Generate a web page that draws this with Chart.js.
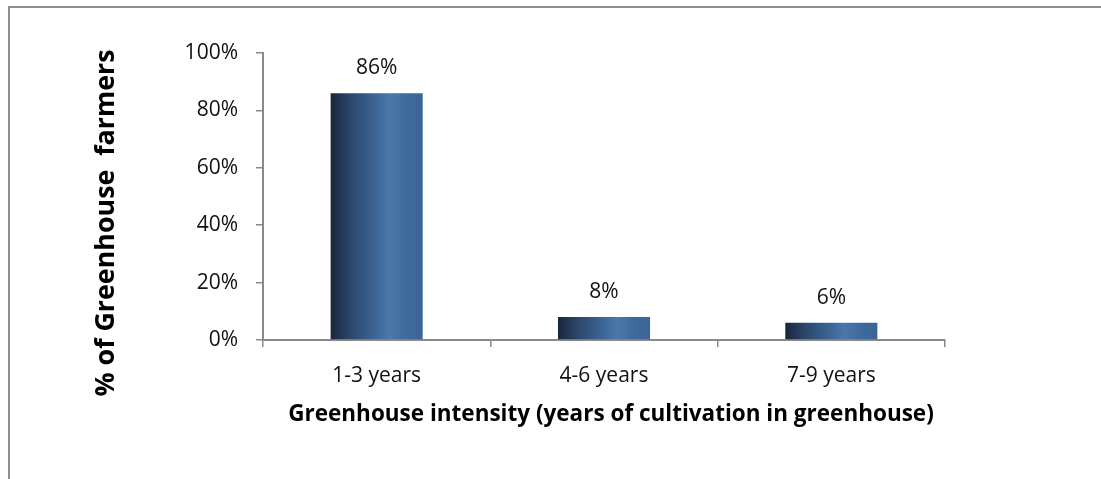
<!DOCTYPE html>
<html>
<head>
<meta charset="utf-8">
<script src="https://cdn.jsdelivr.net/npm/chart.js@4.4.1/dist/chart.umd.min.js"></script>
<style>
  html, body { margin: 0; padding: 0; background: #fff; overflow: hidden; }
  #frame {
    position: absolute; left: 8px; top: 6px; width: 1200px; height: 600px;
    border-left: 2px solid #8e8e8e; border-top: 2px solid #8e8e8e;
  }
  #wrap { position: absolute; left: 0; top: 0; width: 1101px; height: 479px; }
</style>
</head>
<body>
<div id="frame"></div>
<div id="wrap"><canvas id="chart" width="1101" height="479"></canvas></div>
<script>
// Share of greenhouse farmers by years of greenhouse cultivation
const categories = ['1-3 years', '4-6 years', '7-9 years'];
const shares = [86, 8, 6];
const yTicks = [0, 20, 40, 60, 80, 100];

const xTitle = 'Greenhouse intensity (years of cultivation in greenhouse)';
const yTitle = '% of Greenhouse  farmers';
const FONT = '"Open Sans", Lato, sans-serif';
const AXIS_GRAY = '#8a8a8a';
const BAR_PCT = 0.405;

// Horizontal shading across each bar, dark at the left edge
function barFill(context) {
  const chart = context.chart;
  const xs = chart.scales.x;
  if (!xs || !isFinite(xs.left) || xs.right <= xs.left) return '#3d6a9c';
  const cx = xs.getPixelForValue(context.dataIndex);
  const half = (xs.right - xs.left) / categories.length * BAR_PCT / 2;
  const g = chart.ctx.createLinearGradient(cx - half, 0, cx + half, 0);
  g.addColorStop(0, '#19263b');
  g.addColorStop(0.2, '#2b4568');
  g.addColorStop(0.45, '#3a6190');
  g.addColorStop(0.64, '#4a78ab');
  g.addColorStop(0.82, '#3f6a9b');
  g.addColorStop(1, '#3c6597');
  return g;
}

const valueLabels = {
  id: 'valueLabels',
  afterDatasetsDraw(chart) {
    const ctx = chart.ctx;
    const meta = chart.getDatasetMeta(0);
    ctx.save();
    ctx.font = '21px ' + FONT;
    ctx.fillStyle = '#111';
    ctx.textAlign = 'center';
    ctx.textBaseline = 'middle';
    meta.data.forEach((bar, i) => {
      ctx.fillText(shares[i] + '%', bar.x, bar.y - 25);
    });
    ctx.restore();
  }
};

const axisTitles = {
  id: 'axisTitles',
  afterDraw(chart) {
    const ctx = chart.ctx;
    const xs = chart.scales.x;
    ctx.save();
    ctx.fillStyle = '#000';
    ctx.textAlign = 'center';
    ctx.textBaseline = 'middle';
    ctx.font = 'bold 22.5px ' + FONT;
    ctx.fillText(xTitle, (xs.left + xs.right) / 2 + 7, 415);
    ctx.translate(106, 223);
    ctx.rotate(-Math.PI / 2);
    ctx.font = 'bold 26.8px ' + FONT;
    ctx.fillText(yTitle, 0, 0);
    ctx.restore();
  }
};

new Chart(document.getElementById('chart'), {
  type: 'bar',
  data: {
    labels: categories,
    datasets: [{
      data: shares,
      backgroundColor: barFill,
      borderWidth: 0,
      barPercentage: BAR_PCT,
      categoryPercentage: 1.0
    }]
  },
  options: {
    responsive: false,
    animation: false,
    devicePixelRatio: 1,
    layout: { padding: { top: 53, right: 156, bottom: 39, left: 0 } },
    plugins: { legend: { display: false }, tooltip: { enabled: false } },
    scales: {
      x: {
        afterFit(scale) { scale.height = 100; },
        grid: {
          offset: true, drawOnChartArea: false, drawTicks: true,
          tickLength: 7, tickColor: AXIS_GRAY, lineWidth: 1.5
        },
        border: { color: AXIS_GRAY, width: 2 },
        ticks: { color: '#111', padding: 16, font: { family: FONT, size: 21 } }
      },
      y: {
        min: 0, max: 100,
        afterFit(scale) { scale.width = 263; },
        afterBuildTicks(scale) { scale.ticks = yTicks.map(v => ({ value: v })); },
        grid: {
          drawOnChartArea: false, drawTicks: true,
          tickLength: 7, tickColor: AXIS_GRAY, lineWidth: 1.5
        },
        border: { color: AXIS_GRAY, width: 2 },
        ticks: {
          color: '#111', padding: 18,
          font: { family: FONT, size: 21 },
          callback: v => v + '%'
        }
      }
    }
  },
  plugins: [valueLabels, axisTitles]
});
</script>
</body>
</html>
